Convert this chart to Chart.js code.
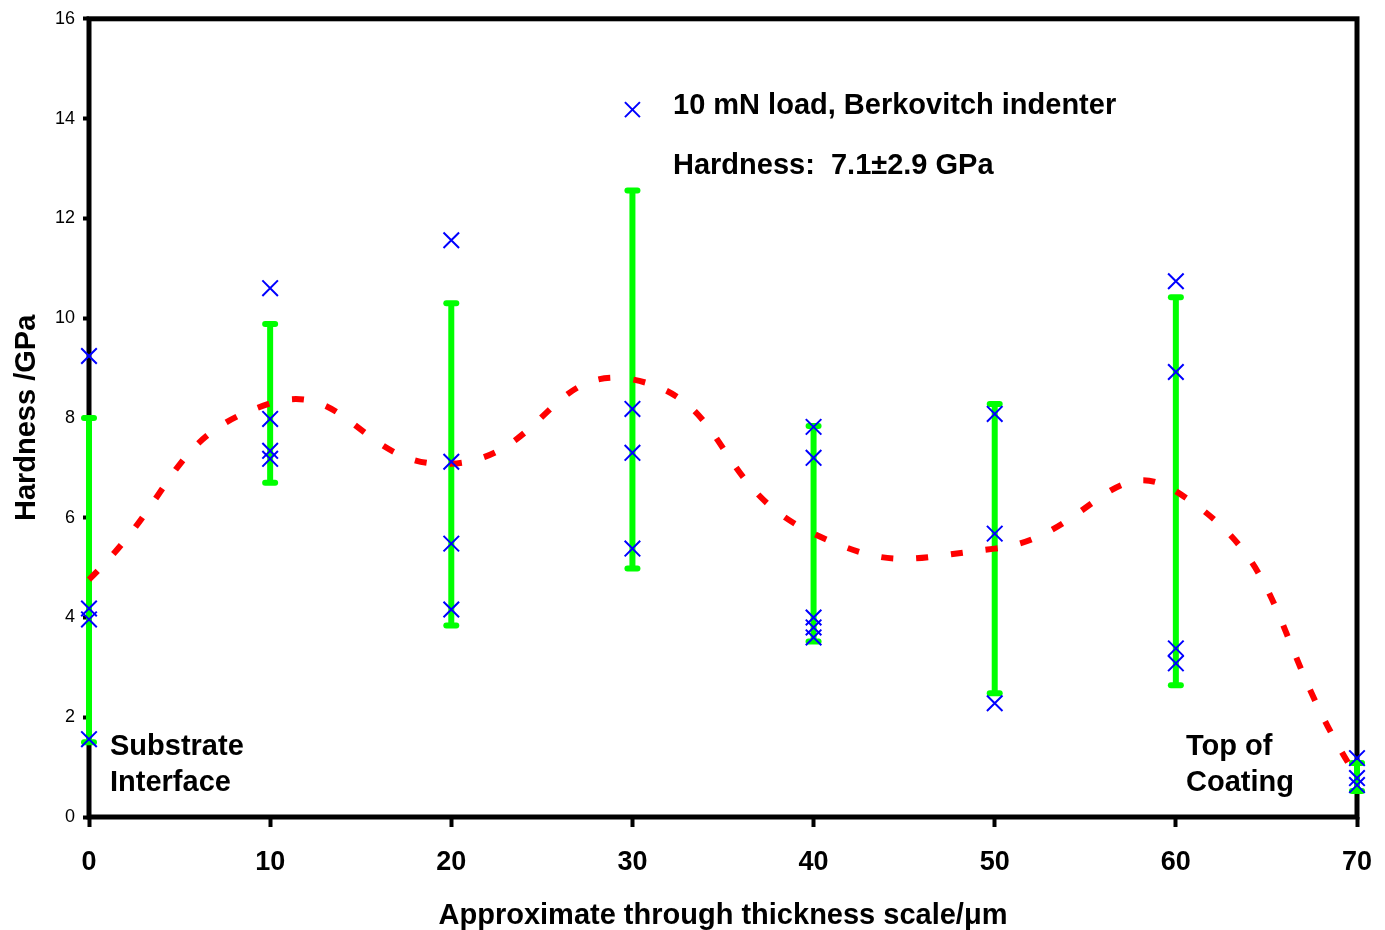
<!DOCTYPE html>
<html><head><meta charset="utf-8">
<script src="https://cdn.jsdelivr.net/npm/chart.js@4.4.1/dist/chart.umd.min.js"></script>
<style>html,body{margin:0;padding:0;background:#fff;}canvas{display:block;}</style>
</head><body>
<canvas id="c" width="1385" height="930"></canvas>
<script>
// ---- data ----
const positions = [0, 10, 20, 30, 40, 50, 60, 70];
const readings0  = [9.24, 4.18, 3.96, 1.56];
const readings10 = [10.6, 7.98, 7.34, 7.18];
const readings20 = [11.56, 7.12, 5.48, 4.16];
const readings30 = [8.18, 7.3, 5.38];
const readings40 = [7.82, 7.2, 4.0, 3.8, 3.6];
const readings50 = [8.08, 5.68, 2.28];
const readings60 = [10.74, 8.92, 3.38, 3.08];
const readings70 = [1.18, 0.78, 0.64];
const meanHardness = [4.76, 8.29, 7.08, 8.77, 5.68, 5.38, 6.53, 0.8];
const errorLow  = [1.5, 6.7, 3.84, 4.98, 3.52, 2.48, 2.64, 0.52];
const errorHigh = [8.0, 9.88, 10.3, 12.56, 7.84, 8.28, 10.42, 1.08];
const xTickValues = [0, 10, 20, 30, 40, 50, 60, 70];
const yTickValues = [0, 2, 4, 6, 8, 10, 12, 14, 16];
const legendLines = ['10 mN load, Berkovitch indenter', 'Hardness:  7.1\u00b12.9 GPa'];
const leftNote = ['Substrate', 'Interface'];
const rightNote = ['Top of', 'Coating'];
const xTitle = 'Approximate through thickness scale/\u03bcm';
const yTitle = 'Hardness /GPa';

// ---- build datasets ----
const allReadings = [readings0, readings10, readings20, readings30, readings40, readings50, readings60, readings70];
const crossData = [];
allReadings.forEach((arr, i) => arr.forEach(v => crossData.push({x: positions[i], y: v})));
const meanData = positions.map((x, i) => ({x, y: meanHardness[i]}));
const errData = [];
positions.forEach((x, i) => { errData.push({x, y: errorLow[i]}, {x, y: errorHigh[i]}, {x, y: null}); });

const FONT = '"Liberation Sans", Arial, Helvetica, sans-serif';

const decor = {
  id: 'decor',
  beforeDatasetsDraw(chart) {
    const {ctx, chartArea: a} = chart;
    ctx.save();
    ctx.strokeStyle = '#000';
    ctx.lineWidth = 5;
    ctx.strokeRect(a.left, a.top, a.right - a.left, a.bottom - a.top);
    ctx.restore();
  },
  beforeDatasetDraw(chart, args) {
    if (args.index === 2) { chart.ctx.save(); chart.ctx.lineCap = 'round'; }
  },
  afterDatasetDraw(chart, args) {
    if (args.index === 2) { chart.ctx.restore(); }
  },
  afterDatasetsDraw(chart) {
    const {ctx} = chart;
    const xs = chart.scales.x, ys = chart.scales.y;
    ctx.save();
    ctx.fillStyle = '#000';
    ctx.font = 'bold 29px ' + FONT;
    ctx.textBaseline = 'alphabetic';
    ctx.textAlign = 'left';
    // legend
    const lx = xs.getPixelForValue(32.24);
    ctx.fillText(legendLines[0], lx, ys.getPixelForValue(14.1));
    ctx.fillText(legendLines[1], lx, ys.getPixelForValue(12.88));
    const cx = xs.getPixelForValue(30), cy = ys.getPixelForValue(14.18);
    ctx.strokeStyle = '#0000FF'; ctx.lineWidth = 2;
    ctx.beginPath();
    ctx.moveTo(cx - 7.5, cy - 7.5); ctx.lineTo(cx + 7.5, cy + 7.5);
    ctx.moveTo(cx + 7.5, cy - 7.5); ctx.lineTo(cx - 7.5, cy + 7.5);
    ctx.stroke();
    // notes
    const nx1 = xs.getPixelForValue(1.16), nx2 = xs.getPixelForValue(60.56);
    ctx.fillText(leftNote[0], nx1, ys.getPixelForValue(1.24));
    ctx.fillText(leftNote[1], nx1, ys.getPixelForValue(0.52));
    ctx.fillText(rightNote[0], nx2, ys.getPixelForValue(1.24));
    ctx.fillText(rightNote[1], nx2, ys.getPixelForValue(0.52));
    ctx.restore();
  }
};

new Chart(document.getElementById('c'), {
  type: 'line',
  data: {
    datasets: [
      {
        label: 'readings', data: crossData, showLine: false, clip: false,
        pointStyle: 'crossRot', pointRadius: 11, pointBorderWidth: 2,
        pointBorderColor: '#0000FF', pointBackgroundColor: '#0000FF'
      },
      {
        label: 'mean', data: meanData, clip: false, tension: 0.5,
        borderColor: '#FF0000', borderWidth: 6, borderDash: [12, 23],
        pointRadius: 0, fill: false
      },
      {
        label: 'error', data: errData, clip: false, spanGaps: false,
        borderColor: '#00FF00', borderWidth: 6,
        pointStyle: 'line', pointRadius: 5, pointBorderWidth: 6,
        pointBorderColor: '#00FF00', pointBackgroundColor: '#00FF00', fill: false
      }
    ]
  },
  options: {
    responsive: false,
    animation: false,
    events: [],
    devicePixelRatio: 1,
    layout: {padding: {top: 17, right: 28, left: 0, bottom: 0}},
    plugins: {legend: {display: false}, tooltip: {enabled: false}},
    scales: {
      x: {
        type: 'linear', min: 0, max: 70,
        afterFit(s) { s.height = 113; s.paddingLeft = 0; s.paddingRight = 0; },
        afterBuildTicks(s) { s.ticks = xTickValues.map(v => ({value: v})); },
        grid: {display: true, drawOnChartArea: false, drawTicks: true, tickLength: 10, tickWidth: 4, tickColor: '#000'},
        border: {display: false},
        ticks: {color: '#000', font: {family: FONT, size: 27, weight: 'bold'}, padding: 19, maxRotation: 0, autoSkip: false},
        title: {display: true, text: xTitle, color: '#000', font: {family: FONT, size: 29, weight: 'bold'}, padding: {top: 0, bottom: -3}}
      },
      y: {
        type: 'linear', min: 0, max: 16,
        afterFit(s) { s.width = 89; },
        afterBuildTicks(s) { s.ticks = yTickValues.map(v => ({value: v})); },
        grid: {display: true, drawOnChartArea: false, drawTicks: true, tickLength: 6, tickWidth: 4, tickColor: '#000'},
        border: {display: false},
        ticks: {color: '#000', font: {family: FONT, size: 18}, padding: 8},
        title: {display: true, text: yTitle, color: '#000', font: {family: FONT, size: 29, weight: 'bold'}, padding: {top: 10, bottom: 0}}
      }
    }
  },
  plugins: [decor]
});
</script>
</body></html>
